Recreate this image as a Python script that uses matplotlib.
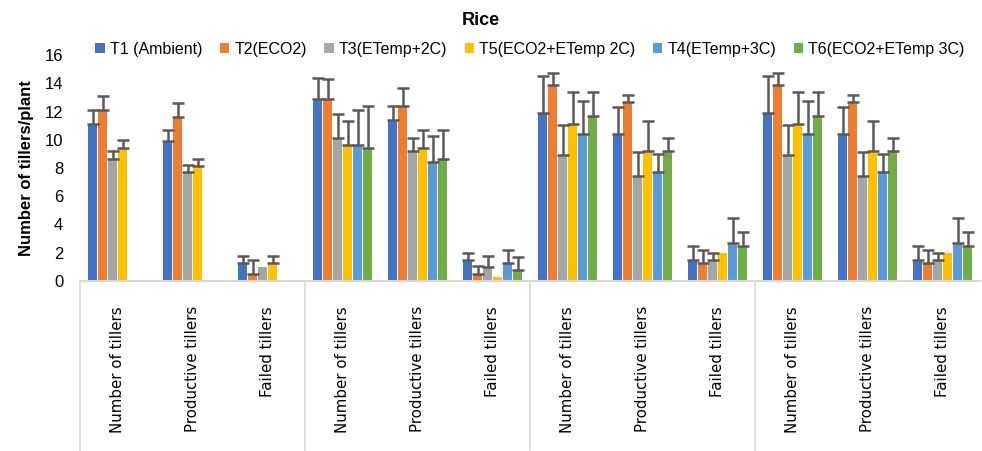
import numpy as np
import matplotlib
matplotlib.use("Agg")
import matplotlib.pyplot as plt
import matplotlib.transforms as mtransforms

plt.rcParams['font.family'] = ['Liberation Sans', 'DejaVu Sans']

categories = ["Number of tillers", "Productive tillers", "Failed tillers"] * 4
series_names = ["T1 (Ambient)", "T2(ECO2)", "T3(ETemp+2C)", "T5(ECO2+ETemp 2C)",
                "T4(ETemp+3C)", "T6(ECO2+ETemp 3C)"]
colors = ["#4472C4", "#ED7D31", "#A5A5A5", "#FFC000", "#5B9BD5", "#70AD47"]
nan = np.nan

T1 = [11.1, 9.9, 1.25, 12.9, 11.4, 1.45, 11.9, 10.4, 1.45, 11.9, 10.4, 1.45]
T1_err = [1.0, 0.8, 0.5, 1.45, 1.0, 0.55, 2.6, 1.9, 1.0, 2.6, 1.9, 1.0]
T2 = [12.1, 11.6, 0.5, 12.9, 12.4, 0.5, 13.9, 12.7, 1.25, 13.9, 12.7, 1.25]
T2_err = [1.0, 1.0, 1.0, 1.4, 1.3, 0.55, 0.8, 0.5, 0.95, 0.8, 0.5, 0.95]
T3 = [8.65, 7.7, 1.0, 10.1, 9.2, 1.0, 8.9, 7.4, 1.45, 8.9, 7.4, 1.45]
T3_err = [0.55, 0.5, nan, 1.75, 0.95, 0.8, 2.15, 1.75, 0.55, 2.15, 1.75, 0.55]
T5 = [9.4, 8.15, 1.25, 9.6, 9.4, 0.25, 11.15, 9.2, 2.0, 11.15, 9.2, 2.0]
T5_err = [0.55, 0.5, 0.5, 1.7, 1.3, nan, 2.2, 2.15, nan, 2.2, 2.15, nan]
T4 = [nan, nan, nan, 9.6, 8.4, 1.25, 10.4, 7.7, 2.7, 10.4, 7.7, 2.7]
T4_err = [nan, nan, nan, 2.5, 1.9, 0.95, 2.35, 1.3, 1.75, 2.35, 1.3, 1.75]
T6 = [nan, nan, nan, 9.4, 8.65, 0.75, 11.65, 9.2, 2.5, 11.65, 9.2, 2.5]
T6_err = [nan, nan, nan, 3.0, 2.05, 0.95, 1.7, 0.95, 0.95, 1.7, 0.95, 0.95]

values = [T1, T2, T3, T5, T4, T6]
errors = [T1_err, T2_err, T3_err, T5_err, T4_err, T6_err]

fig = plt.figure(figsize=(9.82, 4.51), dpi=100)
ax = fig.add_axes([0.0815, 0.377, 0.9165, 0.501])

x = np.arange(len(categories))
slot = 0.8 / 6
bw = slot * 0.86
for i, (vals, errs, c, name) in enumerate(zip(values, errors, colors, series_names)):
    xs = x - 0.4 + slot * (i + 0.5)
    v = np.array(vals, dtype=float)
    e = np.array(errs, dtype=float)
    ax.bar(xs, np.nan_to_num(v), width=bw, color=c, label=name, zorder=2)
    m = np.isfinite(v) & np.isfinite(e)
    ax.errorbar(xs[m], v[m], yerr=[np.zeros(m.sum()), e[m]], fmt='none',
                ecolor='#595959', elinewidth=1.8, capsize=4, capthick=1.8, zorder=3)

ax.set_xlim(-0.5, len(categories) - 0.5)
ax.set_ylim(0, 16)
ax.set_yticks(np.arange(0, 17, 2))
ax.tick_params(axis='y', length=0, labelsize=12, pad=12)
ax.set_xticks(x)
ax.set_xticklabels(categories, rotation=90, fontsize=10.8, va='top',
                   family=['DejaVu Sans'])
ax.tick_params(axis='x', length=0, pad=18)
for s in ['top', 'right', 'left']:
    ax.spines[s].set_visible(False)
ax.spines['bottom'].set_color('#D9D9D9')
ax.spines['bottom'].set_linewidth(1.5)

trans = mtransforms.blended_transform_factory(ax.transData, ax.transAxes)
for xb in [-0.5, 2.5, 5.5, 8.5]:
    ax.plot([xb, xb], [0, -0.75], transform=trans, color='#D9D9D9', lw=1.2,
            clip_on=False)

ax.set_ylabel("Number of tillers/plant", fontsize=12, fontweight='bold', labelpad=8)
fig.text(0.49, 0.955, "Rice", ha='center', va='center', fontsize=13, fontweight='bold')

leg = ax.legend(loc='center left', bbox_to_anchor=(0.017, 1.025), ncol=6, frameon=False,
                fontsize=11.5, handlelength=0.6, handleheight=0.6, handletextpad=0.3,
                columnspacing=1.1, borderaxespad=0, borderpad=0)

fig.savefig("out.png", dpi=100)
